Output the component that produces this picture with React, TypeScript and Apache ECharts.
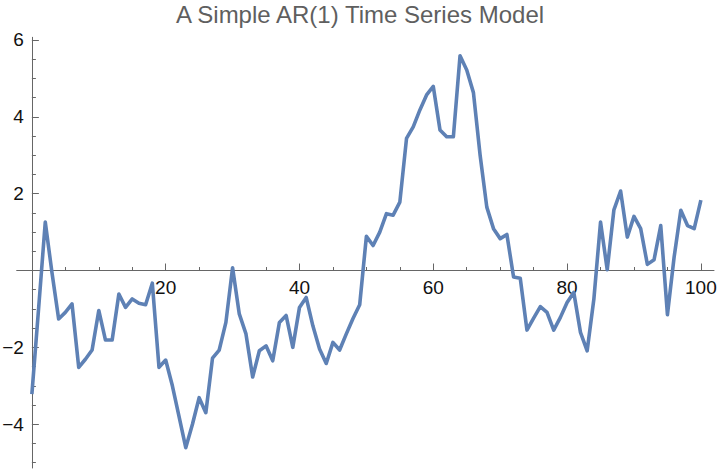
import React, { useEffect, useRef } from "react";
import * as echarts from "echarts";

const titleText = "A Simple AR(1) Time Series Model";

const seriesValues: number[] = [
  -3.22, -1.0, 1.26, -0.05, -1.26, -1.09, -0.87, -2.52, -2.31, -2.07,
  -1.04, -1.81, -1.81, -0.61, -0.96, -0.74, -0.85, -0.89, -0.33, -2.52,
  -2.33, -3.0, -3.8, -4.61, -4.0, -3.31, -3.7, -2.28, -2.07, -1.35,
  0.07, -1.13, -1.65, -2.77, -2.09, -1.96, -2.35, -1.35, -1.17, -2.0,
  -0.96, -0.7, -1.44, -2.04, -2.42, -1.87, -2.07, -1.65, -1.25, -0.89,
  0.89, 0.65, 1.0, 1.48, 1.44, 1.78, 3.44, 3.74, 4.18, 4.57,
  4.79, 3.66, 3.48, 3.48, 5.59, 5.22, 4.63, 3.0, 1.65, 1.09,
  0.83, 0.94, -0.17, -0.2, -1.55, -1.24, -0.94, -1.09, -1.55, -1.22,
  -0.83, -0.57, -1.61, -2.09, -0.75, 1.26, 0.02, 1.58, 2.07, 0.87,
  1.41, 1.09, 0.16, 0.28, 1.17, -1.15, 0.35, 1.57, 1.17, 1.09,
  1.83,
];

const xMajorTicks = [20, 40, 60, 80, 100];
const xMinorTicks = [5, 10, 15, 25, 30, 35, 45, 50, 55, 65, 70, 75, 85, 90, 95];
const yMajorTicks = [-4, -2, 2, 4, 6];
const yMinorTicks = [
  -5, -4.5, -3.5, -3, -2.5, -1.5, -1, -0.5, 0.5, 1, 1.5, 2.5, 3, 3.5, 4.5, 5, 5.5,
];

const X_MIN = -2.27;
const X_MAX = 101.96;
const Y_MIN = -5.14;
const Y_MAX = 6.07;

const W = 720;
const H = 472;
const GRID_LEFT = 16.7;
const GRID_RIGHT = 6;
const GRID_TOP = 37.3;
const GRID_BOTTOM = 4;

const AXIS_COLOR = "#666666";
const LABEL_COLOR = "#111111";
const LINE_COLOR = "#5E81B5";
const FONT = "'Liberation Sans', Arial, Helvetica, sans-serif";

const fmt = (v: number) => (v < 0 ? "\u2212" + Math.abs(v) : String(v));

function buildOption(x0: number, y0: number) {
  const data = seriesValues.map((v, i) => [i, v]);
  const onZeroLine = (show: boolean) => ({
    show,
    onZero: true,
    onZeroAxisIndex: 0,
    lineStyle: { color: AXIS_COLOR, width: 1 },
  });
  const hiddenAxis = (gridIndex: number) => ({
    type: "value",
    gridIndex,
    min: 0,
    max: 1,
    show: false,
  });

  return {
    animation: false,
    backgroundColor: "#ffffff",
    title: {
      text: titleText,
      left: "center",
      top: 0,
      padding: [2, 0, 0, 11],
      textStyle: {
        fontFamily: FONT,
        fontSize: 24,
        fontWeight: "normal",
        color: "#5f5f5f",
      },
    },
    grid: [
      {
        left: GRID_LEFT,
        right: GRID_RIGHT,
        top: GRID_TOP,
        bottom: GRID_BOTTOM,
        containLabel: false,
        outerBoundsMode: "none",
      },
      {
        left: GRID_LEFT,
        right: GRID_RIGHT,
        top: GRID_TOP,
        bottom: H - y0,
        containLabel: false,
        outerBoundsMode: "none",
      },
      {
        left: x0,
        right: GRID_RIGHT,
        top: GRID_TOP,
        bottom: GRID_BOTTOM,
        containLabel: false,
        outerBoundsMode: "none",
      },
    ],
    xAxis: [
      {
        type: "value",
        gridIndex: 0,
        min: X_MIN,
        max: X_MAX,
        position: "bottom",
        splitLine: { show: false },
        axisLine: onZeroLine(true),
        axisTick: {
          show: true,
          inside: true,
          length: 7,
          customValues: xMajorTicks,
          lineStyle: { color: AXIS_COLOR, width: 1 },
        },
        axisLabel: { show: false },
      },
      {
        type: "value",
        gridIndex: 0,
        min: X_MIN,
        max: X_MAX,
        position: "bottom",
        splitLine: { show: false },
        axisLine: onZeroLine(false),
        axisTick: {
          show: true,
          inside: true,
          length: 3.5,
          customValues: xMinorTicks,
          lineStyle: { color: AXIS_COLOR, width: 1 },
        },
        axisLabel: { show: false },
      },
      {
        type: "value",
        gridIndex: 1,
        min: X_MIN,
        max: X_MAX,
        position: "bottom",
        splitLine: { show: false },
        axisLine: { show: false, onZero: false },
        axisTick: { show: false },
        axisLabel: {
          show: true,
          customValues: xMajorTicks,
          formatter: fmt,
          margin: 7,
          color: LABEL_COLOR,
          fontFamily: FONT,
          fontSize: 19,
        },
      },
      hiddenAxis(2),
    ],
    yAxis: [
      {
        type: "value",
        gridIndex: 0,
        min: Y_MIN,
        max: Y_MAX,
        position: "left",
        splitLine: { show: false },
        axisLine: onZeroLine(true),
        axisTick: {
          show: true,
          inside: true,
          length: 7,
          customValues: yMajorTicks,
          lineStyle: { color: AXIS_COLOR, width: 1 },
        },
        axisLabel: { show: false },
      },
      {
        type: "value",
        gridIndex: 0,
        min: Y_MIN,
        max: Y_MAX,
        position: "left",
        splitLine: { show: false },
        axisLine: onZeroLine(false),
        axisTick: {
          show: true,
          inside: true,
          length: 4,
          customValues: yMinorTicks,
          lineStyle: { color: AXIS_COLOR, width: 1 },
        },
        axisLabel: { show: false },
      },
      hiddenAxis(1),
      {
        type: "value",
        gridIndex: 2,
        min: Y_MIN,
        max: Y_MAX,
        position: "left",
        splitLine: { show: false },
        axisLine: { show: false, onZero: false },
        axisTick: { show: false },
        axisLabel: {
          show: true,
          customValues: yMajorTicks,
          formatter: fmt,
          margin: 8,
          color: LABEL_COLOR,
          fontFamily: FONT,
          fontSize: 19,
        },
      },
    ],
    series: [
      {
        type: "line",
        xAxisIndex: 0,
        yAxisIndex: 0,
        data,
        showSymbol: false,
        symbol: "none",
        lineStyle: { color: LINE_COLOR, width: 3.6, join: "round" },
        z: 5,
      },
    ],
  };
}

export default function App() {
  const ref = useRef<HTMLDivElement>(null);

  useEffect(() => {
    if (!ref.current) return;
    const chart = echarts.init(ref.current, undefined, { renderer: "svg" });
    // first pass: place the main grid, then read where zero lies
    chart.setOption(buildOption(GRID_LEFT + 15, H / 2) as any, true);
    const p = chart.convertToPixel({ gridIndex: 0 }, [0, 0]) as number[];
    const x0 = p && isFinite(p[0]) ? p[0] : GRID_LEFT + 15;
    const y0 = p && isFinite(p[1]) ? p[1] : H / 2;
    chart.setOption(buildOption(x0, y0) as any, true);

    return () => {
      chart.dispose();
    };
  }, []);

  return (
    <div
      ref={ref}
      style={{ position: "fixed", left: 0, top: 0, width: W, height: H, background: "#fff" }}
    />
  );
}
